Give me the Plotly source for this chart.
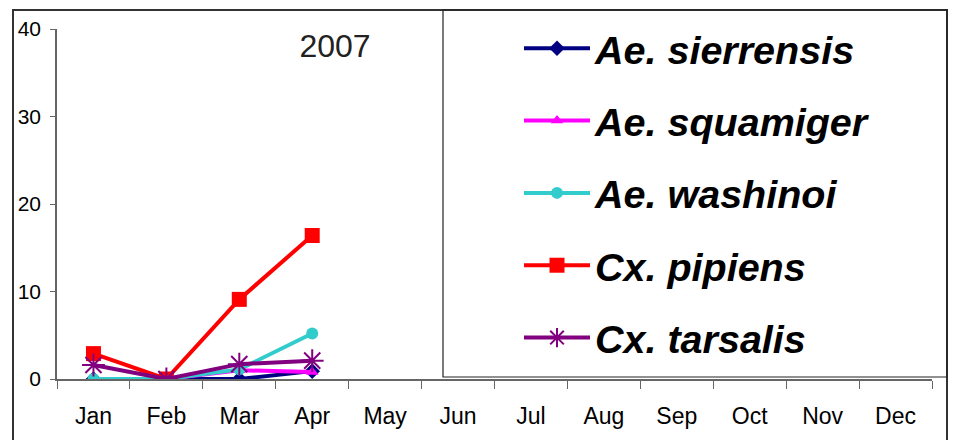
import plotly.graph_objects as go

months = ["Jan", "Feb", "Mar", "Apr", "May", "Jun", "Jul", "Aug", "Sep", "Oct", "Nov", "Dec"]
ae_sierrensis = [0, 0, 0, 0.9]
ae_squamiger = [0, 0, 1.0, 0.8]
ae_washinoi = [0, 0, 1.1, 5.2]
cx_pipiens = [2.9, 0, 9.1, 16.4]
cx_tarsalis = [1.6, 0, 1.7, 2.1]
y_ticks = [0, 10, 20, 30, 40]

FONT = "Arial, Liberation Sans, sans-serif"

series = [
    ("<i>Ae. sierrensis</i>", ae_sierrensis, "#000080", "diamond", 12, 0),
    ("<i>Ae. squamiger</i>", ae_squamiger, "#FF00FF", "triangle-up", 11, 0),
    ("<i>Ae. washinoi</i>", ae_washinoi, "#33CCCC", "circle", 12, 0),
    ("<i>Cx. pipiens</i>", cx_pipiens, "#FF0000", "square", 15, 0),
    ("<i>Cx. tarsalis</i>", cx_tarsalis, "#800080", "asterisk-open", 19, 2),
]

fig = go.Figure()
for i, (name, vals, col, sym, size, lw) in enumerate(series):
    fig.add_trace(go.Scatter(
        x=months[:len(vals)], y=vals, name=name, mode="lines+markers",
        legendgroup=f"g{i}",
        line=dict(color=col, width=4),
        marker=dict(symbol=sym, size=size, color=col, line=dict(color=col, width=lw)),
    ))

# body margin is removed in the page (post_script), so page pixels = figure pixels
W, H = 955, 440
PL, PR, PT, PB = 57, 932, 29, 379  # plot area in page pixels
L, T = PL, PT
R = W - PR
B = H - PB
pw, ph = PR - PL, PB - PT

def px(x):
    return (x - PL) / pw

def py(y):
    return (PB - y) / ph

shapes = [
    # outer chart border
    dict(type="rect", xref="paper", yref="paper", x0=px(13), x1=px(947), y0=py(448), y1=py(10),
         line=dict(color="#333333", width=2)),
    # legend box
    dict(type="rect", xref="paper", yref="paper", x0=px(443), x1=px(947), y0=py(377), y1=py(10),
         line=dict(color="#222222", width=1.2)),
]

fig.update_layout(
    width=W, height=H,
    margin=dict(l=L, r=R, t=T, b=B, pad=0, autoexpand=False),
    paper_bgcolor="white", plot_bgcolor="white",
    font=dict(family=FONT, color="black"),
    title=dict(text="2007", x=335 / W, xanchor="center", y=1 - 46 / H, yanchor="middle",
               font=dict(size=32, color="#222222", family=FONT)),
    showlegend=True,
    legend=dict(
        xref="container", yref="container",
        x=519 / W, xanchor="left", y=1 - 16 / H, yanchor="top",
        font=dict(size=39.5, family=FONT, weight="bold", style="italic", color="black"),
        bgcolor="rgba(0,0,0,0)", borderwidth=0,
        traceorder="grouped", tracegroupgap=18, itemwidth=66,
        maxheight=430,
    ),
    shapes=shapes,
    xaxis=dict(
        type="category", categoryarray=months, categoryorder="array",
        range=[-0.5, 11.5], tickson="boundaries", tickangle=0,
        ticks="outside", ticklen=8, tickcolor="#666666", tickwidth=1,
        showline=True, linecolor="#666666", linewidth=1.5,
        showgrid=False, zeroline=False,
        tickfont=dict(size=23, family=FONT, color="black"),
        ticklabelstandoff=16,
    ),
    yaxis=dict(
        range=[0, 40], tickvals=y_ticks,
        ticks="outside", ticklen=5, tickcolor="#666666", tickwidth=1,
        showline=True, linecolor="#666666", linewidth=1.5,
        showgrid=False, zeroline=False,
        tickfont=dict(size=21, family=FONT, color="black"),
        ticklabelstandoff=5,
    ),
)

fig.write_html(
    "out.html",
    config={"displayModeBar": False},
    post_script="document.body.style.margin='0';document.documentElement.style.overflow='hidden';",
)
